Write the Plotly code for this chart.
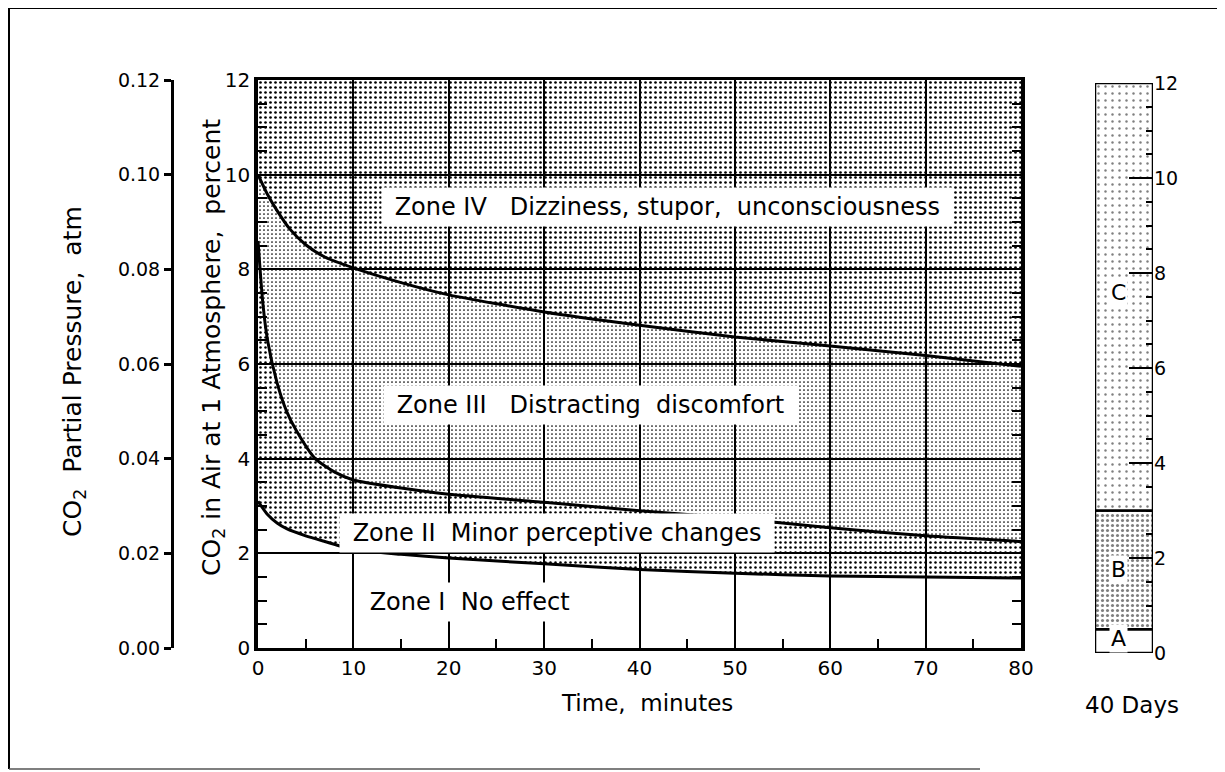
import plotly.graph_objects as go

# ---- data ----
# Zone I / Zone II boundary
t_b1 = [0, 1, 2, 3, 5, 7, 10, 15, 20, 30, 40, 50, 60, 70, 80]
co2_b1 = [3.1, 2.82, 2.64, 2.52, 2.37, 2.25, 2.08, 1.98, 1.9, 1.78, 1.66, 1.58, 1.52, 1.5, 1.48]
# Zone II / Zone III boundary
t_b2 = [0, 0.5, 1, 2, 3, 4, 6, 8, 10, 15, 20, 30, 40, 50, 60, 70, 80]
co2_b2 = [8.6, 7.3, 6.5, 5.6, 5.0, 4.6, 4.0, 3.72, 3.55, 3.38, 3.25, 3.08, 2.9, 2.74, 2.54, 2.37, 2.25]
# Zone III / Zone IV boundary
t_b3 = [0, 1, 2, 3.3, 5, 7, 10, 15, 20, 30, 40, 50, 60, 70, 80]
co2_b3 = [10.0, 9.58, 9.24, 8.86, 8.52, 8.26, 8.03, 7.72, 7.46, 7.1, 6.82, 6.57, 6.38, 6.18, 5.95]
# top of chart
t_top = [0, 80]
co2_top = [12, 12]

x_ticks = [0, 10, 20, 30, 40, 50, 60, 70, 80]
y_ticks = [0, 2, 4, 6, 8, 10, 12]
p_ticks = [0.00, 0.02, 0.04, 0.06, 0.08, 0.10, 0.12]

zone_labels = ["Zone I\u00a0\u00a0No effect",
               "Zone II\u00a0\u00a0Minor perceptive changes",
               "Zone III\u00a0\u00a0\u00a0Distracting\u00a0\u00a0discomfort",
               "Zone IV\u00a0\u00a0\u00a0Dizziness,\u00a0stupor,\u00a0\u00a0unconsciousness"]
zone_t = [22.2, 31.4, 34.9, 42.9]
zone_v = [0.97, 2.43, 5.13, 9.31]

# 40-day bar segments
bar_names = ["A", "B", "C"]
bar_base = [0, 0.5, 3]
bar_len = [0.5, 2.5, 9]
bar_label_v = [0.3, 1.75, 7.6]

FONT = "DejaVu Sans"
BLACK = "black"
TRANSP = "rgba(0,0,0,0)"

fig = go.Figure()

line_style = dict(color=BLACK, width=3, shape="spline", smoothing=0.6)
fig.add_trace(go.Scatter(x=t_b1, y=co2_b1, mode="lines", line=line_style,
                         showlegend=False, hoverinfo="skip"))
fig.add_trace(go.Scatter(x=t_b2, y=co2_b2, mode="lines", line=line_style,
                         fill="tonexty", fillcolor=TRANSP,
                         fillpattern=dict(shape=".", size=5, solidity=0.2, fgcolor=BLACK, bgcolor=TRANSP, fillmode="replace"),
                         showlegend=False, hoverinfo="skip"))
fig.add_trace(go.Scatter(x=t_b3, y=co2_b3, mode="lines", line=line_style,
                         fill="tonexty", fillcolor=TRANSP,
                         fillpattern=dict(shape=".", size=4, solidity=0.15, fgcolor=BLACK, bgcolor=TRANSP, fillmode="replace"),
                         showlegend=False, hoverinfo="skip"))
fig.add_trace(go.Scatter(x=t_top, y=co2_top, mode="lines", line=dict(color=BLACK, width=0),
                         fill="tonexty", fillcolor=TRANSP,
                         fillpattern=dict(shape=".", size=5, solidity=0.23, fgcolor=BLACK, bgcolor=TRANSP, fillmode="replace"),
                         showlegend=False, hoverinfo="skip"))

# invisible trace to carry the pressure axis
fig.add_trace(go.Scatter(x=[0], y=[0], xaxis="x", yaxis="y2", mode="markers",
                         marker=dict(opacity=0), showlegend=False, hoverinfo="skip"))

# 40 day bar
patterns = [None,
            dict(shape=".", size=5, solidity=0.3, fgcolor=BLACK, bgcolor="white"),
            dict(shape=".", size=7, solidity=0.1, fgcolor=BLACK, bgcolor="white")]
for name, b, l, pat in zip(bar_names, bar_base, bar_len, patterns):
    marker = dict(color="white", line=dict(color=BLACK, width=2.5))
    if pat:
        marker["pattern"] = pat
    fig.add_trace(go.Bar(x=[0], y=[l], base=[b], width=[1], xaxis="x3", yaxis="y3",
                         marker=marker, showlegend=False, hoverinfo="skip", name=name))

W, H = 1225, 772
OFF = 8  # page body margin
def px(x):
    return (x - OFF) / W
def py(y):
    return 1 - (y - OFF) / H

fig.update_layout(
    width=W, height=H,
    margin=dict(l=0, r=0, t=0, b=0, autoexpand=False),
    paper_bgcolor="white", plot_bgcolor="white",
    font=dict(family=FONT, color=BLACK, size=20),
    barmode="overlay",
    xaxis=dict(domain=[px(258), px(1021)], range=[0, 80], tickvals=x_ticks, automargin=False,
               showgrid=True, gridcolor=BLACK, gridwidth=2,
               showline=True, linecolor=BLACK, linewidth=3, mirror=True,
               ticks="inside", ticklen=8, tickwidth=2, tickcolor=BLACK,
               minor=dict(dtick=5, ticks="inside", ticklen=9, tickwidth=2, tickcolor=BLACK, showgrid=False),
               zeroline=False, tickfont=dict(size=20)),
    yaxis=dict(domain=[py(648), py(80)], range=[0, 12], tickvals=y_ticks, automargin=False,
               showgrid=True, gridcolor=BLACK, gridwidth=2,
               showline=True, linecolor=BLACK, linewidth=3.5, mirror="allticks",
               ticks="inside", ticklen=8, tickwidth=2, tickcolor=BLACK,
               minor=dict(dtick=0.5, ticks="inside", ticklen=9, tickwidth=2, tickcolor=BLACK, showgrid=False),
               zeroline=False, tickfont=dict(size=20)),
    yaxis2=dict(overlaying="y", anchor="free", position=px(172), side="left", automargin=False,
                range=[0, 0.12], tickvals=p_ticks, tickformat=".2f",
                showline=True, linecolor=BLACK, linewidth=3,
                ticks="outside", ticklen=7, tickwidth=3, tickcolor=BLACK,
                showgrid=False, zeroline=False, tickfont=dict(size=19)),
    xaxis3=dict(domain=[px(1095), px(1153)], range=[-0.5, 0.5], visible=False, anchor="y3", automargin=False),
    yaxis3=dict(domain=[py(653), py(83)], range=[0, 12], anchor="x3", side="right", automargin=False,
                tickvals=y_ticks, showgrid=False, zeroline=False,
                showline=False,
                ticks="inside", ticklen=24, tickwidth=2, tickcolor=BLACK,
                minor=dict(dtick=0.5, ticks="inside", ticklen=7, tickwidth=2, tickcolor=BLACK),
                tickfont=dict(size=19)),
)

ann = []
for txt, tx, ty in zip(zone_labels, zone_t, zone_v):
    ann.append(dict(x=tx, y=ty, xref="x", yref="y", text="\u00a0" + txt + "\u00a0", showarrow=False,
                    xanchor="center", yanchor="middle",
                    font=dict(size=24, family=FONT, color=BLACK), bgcolor="white", borderpad=5))
for name, v in zip(bar_names, bar_label_v):
    ann.append(dict(x=-0.1, y=v, xref="x3", yref="y3", text=name, showarrow=False,
                    xanchor="center", yanchor="middle",
                    font=dict(size=22, family=FONT, color=BLACK), bgcolor="white", borderpad=1))
ann.append(dict(x=px(647), y=py(703), xref="paper", yref="paper", text="Time,\u00a0 minutes", showarrow=False,
                xanchor="center", yanchor="middle",
                font=dict(size=23, family=FONT, color=BLACK)))
ann.append(dict(x=px(213), y=py(348), xref="paper", yref="paper", textangle=-90,
                text="CO<sub>2</sub> in Air at 1 Atmosphere,\u00a0 percent", showarrow=False,
                xanchor="center", yanchor="middle",
                font=dict(size=25, family=FONT, color=BLACK)))
ann.append(dict(x=px(74), y=py(372), xref="paper", yref="paper", textangle=-90,
                text="CO<sub>2</sub>\u00a0 Partial Pressure,\u00a0 atm", showarrow=False,
                xanchor="center", yanchor="middle",
                font=dict(size=25, family=FONT, color=BLACK)))
ann.append(dict(x=px(1132), y=py(705), xref="paper", yref="paper", text="40 Days", showarrow=False,
                xanchor="center", yanchor="middle",
                font=dict(size=23, family=FONT, color=BLACK)))
fig.update_layout(annotations=ann)

# outer frame (top, left, bottom edges)
fig.add_shape(type="line", xref="paper", yref="paper", x0=px(9), x1=1, y0=py(8), y1=py(8),
              line=dict(color=BLACK, width=2))
fig.add_shape(type="line", xref="paper", yref="paper", x0=px(9), x1=px(9), y0=py(8), y1=py(769),
              line=dict(color=BLACK, width=2))
fig.add_shape(type="line", xref="paper", yref="paper", x0=px(9), x1=px(980), y0=py(769), y1=py(769),
              line=dict(color="#555555", width=1.5))

fig.write_html("out.html")
